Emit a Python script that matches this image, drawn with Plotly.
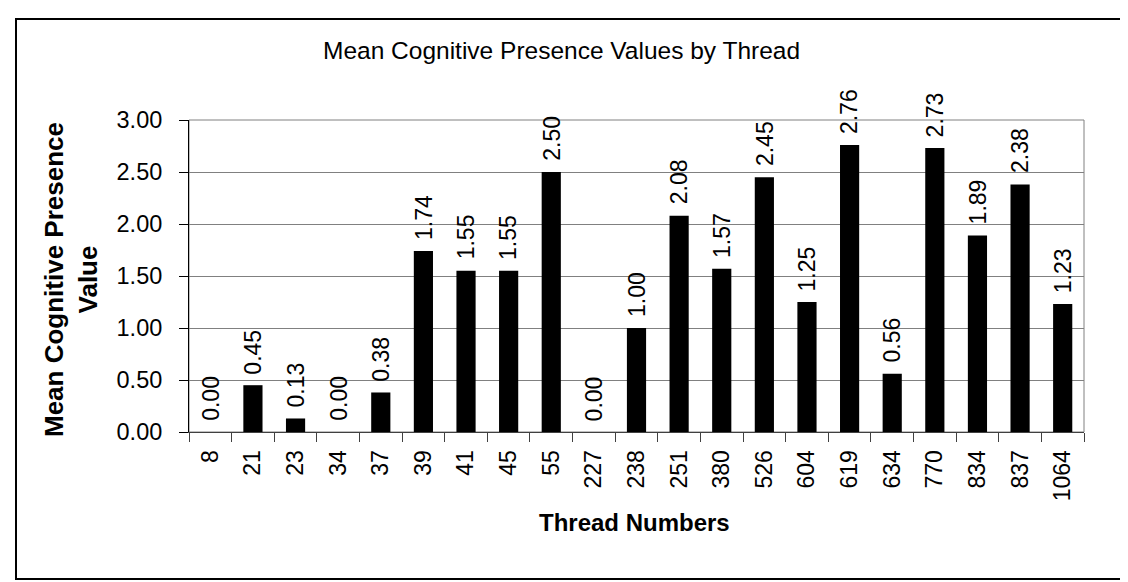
import plotly.graph_objects as go

# Mean cognitive presence per thread
threads = ["8", "21", "23", "34", "37", "39", "41", "45", "55", "227", "238",
           "251", "380", "526", "604", "619", "634", "770", "834", "837", "1064"]
mean_cp = [0.00, 0.45, 0.13, 0.00, 0.38, 1.74, 1.55, 1.55, 2.50, 0.00, 1.00,
           2.08, 1.57, 2.45, 1.25, 2.76, 0.56, 2.73, 1.89, 2.38, 1.23]
y_ticks = [0, 0.5, 1.0, 1.5, 2.0, 2.5, 3.0]

FONT = "Arial, Liberation Sans, sans-serif"

# plot area in pixels (page is 1128 x 582)
L, T, R, B = 181, 112, 1076, 424
W, H = 1128, 582


def px_x(px):
    return (px - L) / (R - L)


def px_y(py):
    return (B - py) / (B - T)


fig = go.Figure()
fig.add_bar(x=threads, y=mean_cp, marker_color="black",
            marker_line_width=0, showlegend=False)

# value labels above bars, turned on their side
# (x given as category index so numeric-looking names are not misread)
for i, v in enumerate(mean_cp):
    fig.add_annotation(x=i, y=v, text=f"{v:.2f}", textangle=-90,
                       showarrow=False, yanchor="bottom", yshift=9,
                       font=dict(family=FONT, size=23, color="black"))

fig.add_annotation(text="Mean Cognitive Presence Values by Thread",
                   xref="paper", yref="paper", x=px_x(553), y=px_y(43),
                   xanchor="center", yanchor="middle", showarrow=False,
                   font=dict(family=FONT, size=24.5, color="black"))
fig.add_annotation(text="<b>Mean Cognitive Presence<br>Value</b>",
                   xref="paper", yref="paper", x=px_x(63), y=px_y(272),
                   xanchor="center", yanchor="middle", textangle=-90,
                   showarrow=False,
                   font=dict(family=FONT, size=26, color="black"))
fig.add_annotation(text="<b>Thread Numbers</b>",
                   xref="paper", yref="paper", x=px_x(626), y=px_y(514),
                   xanchor="center", yanchor="middle", showarrow=False,
                   font=dict(family=FONT, size=24, color="black"))

# grey frame round the plot area and the outer chart border
fig.add_shape(type="rect", xref="paper", yref="paper", x0=0, x1=1, y0=0, y1=1,
              line=dict(color="#808080", width=1), layer="below")
fig.add_shape(type="rect", xref="paper", yref="paper",
              x0=px_x(8), x1=px_x(1121), y0=px_y(571), y1=px_y(11),
              line=dict(color="black", width=2))

fig.update_layout(
    width=W, height=H,
    margin=dict(l=L, r=W - R, t=T, b=H - B),
    paper_bgcolor="white", plot_bgcolor="white",
    bargap=0.55,
    font=dict(family=FONT, size=23, color="black"),
)
fig.update_xaxes(type="category", range=[-0.5, len(threads) - 0.5],
                 tickson="boundaries", ticks="outside",
                 ticklen=9, tickcolor="#404040", tickangle=-90,
                 ticklabelstandoff=8, showline=True, linecolor="#404040",
                 linewidth=1, showgrid=False,
                 tickfont=dict(family=FONT, size=23, color="black"))
fig.update_yaxes(range=[0, 3], tickvals=y_ticks, tickformat=".2f",
                 ticks="outside", ticklen=9, tickcolor="black",
                 ticklabelstandoff=12, showline=True, linecolor="black",
                 linewidth=1, showgrid=True, gridcolor="#808080", gridwidth=1,
                 zeroline=False,
                 tickfont=dict(family=FONT, size=23.5, color="black"))

fig.write_html("out.html")
